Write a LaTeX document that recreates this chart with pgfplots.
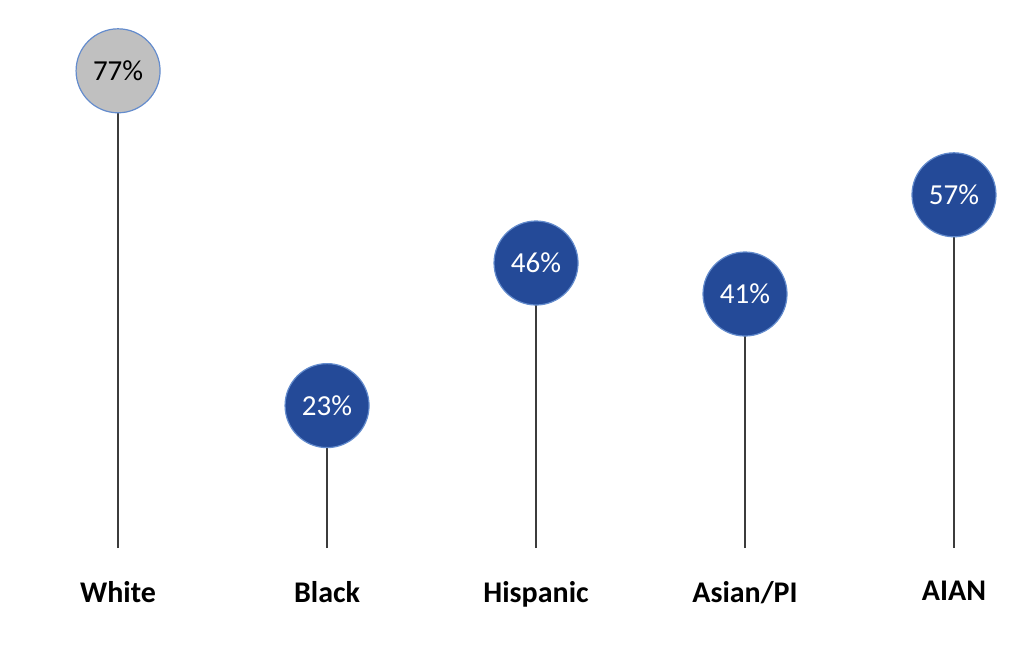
\documentclass[border=0pt]{standalone}
\usepackage{fontspec}
\setmainfont{Carlito}
\usepackage{pgfplots}
\pgfplotsset{compat=1.18}
\definecolor{dotblue}{RGB}{36,74,152}
\definecolor{rimblue}{RGB}{100,140,205}
\definecolor{dotgray}{RGB}{192,192,192}
\definecolor{stem}{RGB}{60,60,60}
\begin{document}
\begin{tikzpicture}
\begin{axis}[
    scale only axis,
    width=514.5pt, height=286pt,
    xmin=-0.565, xmax=4.359,
    ymin=-3.87, ymax=88.39,
    clip=false,
    axis line style={draw=none},
    major tick length=0pt,
    ytick=\empty,
    xtick={0,1,2,3,4},
    xticklabels={White,Black,Hispanic,Asian/PI,AIAN},
    xticklabel style={font=\fontsize{15}{17}\selectfont\bfseries, yshift=-1pt},
    point meta=explicit symbolic,
    nodes near coords,
    every node near coord/.style={anchor=center, font=\fontsize{14.5}{16}\selectfont},
]
\path (axis cs:-0.565,-17.42) rectangle (axis cs:4.359,88.39);
\addplot[ycomb, draw=stem, line width=0.75pt, mark=*, mark size=21pt,
    mark options={fill=dotgray, draw=rimblue, line width=0.6pt},
    nodes near coords style={text=black}]
  coordinates {(0,77) [77\%]};
\addplot[ycomb, draw=stem, line width=0.75pt, mark=*, mark size=21pt,
    mark options={fill=dotblue, draw=rimblue, line width=0.6pt},
    nodes near coords style={text=white}]
  coordinates {(1,23) [23\%] (2,46) [46\%] (3,41) [41\%] (4,57) [57\%]};
\end{axis}
\end{tikzpicture}
\end{document}
